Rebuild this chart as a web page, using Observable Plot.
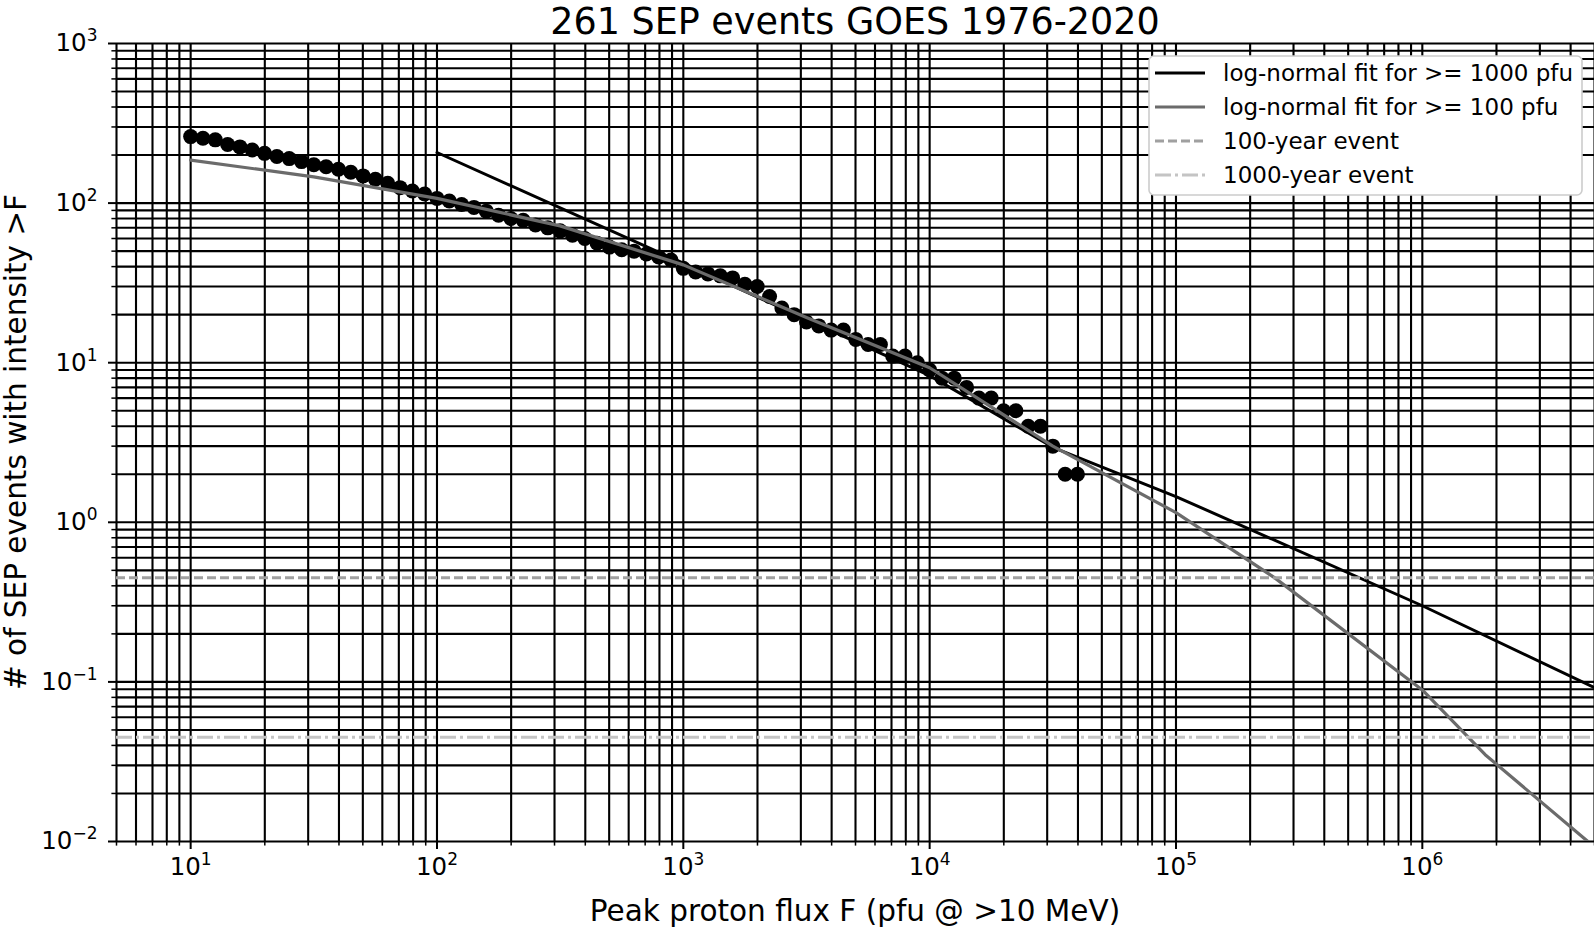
<!DOCTYPE html>
<html><head><meta charset="utf-8">
<script src="https://cdn.jsdelivr.net/npm/d3@7"></script>
<script src="https://cdn.jsdelivr.net/npm/@observablehq/plot@0.6"></script>
<style>
body{margin:0;background:#fff;}
#chart{width:1594px;height:928px;overflow:hidden;}
</style>
</head><body><div id="chart"></div>
<script>
const titleText = "261 SEP events GOES 1976-2020";
const xLabelText = "Peak proton flux F (pfu @ >10 MeV)";
const yLabelText = "# of SEP events with intensity >F";

// Observed thresholds F (pfu) and number of events with intensity > F
const fluxF = [10, 11.22, 12.59, 14.13, 15.85, 17.78, 19.95, 22.39, 25.12, 28.18,
  31.62, 35.48, 39.81, 44.67, 50.12, 56.23, 63.10, 70.79, 79.43, 89.13,
  100, 112.2, 125.9, 141.3, 158.5, 177.8, 199.5, 223.9, 251.2, 281.8,
  316.2, 354.8, 398.1, 446.7, 501.2, 562.3, 631.0, 707.9, 794.3, 891.3,
  1000, 1122, 1259, 1413, 1585, 1778, 1995, 2239, 2512, 2818,
  3162, 3548, 3981, 4467, 5012, 5623, 6310, 7079, 7943, 8913,
  10000, 11220, 12589, 14125, 15849, 17783, 19953, 22387, 25119, 28184,
  31623, 35481, 39811];
const eventCount = [261, 255, 249, 233, 225, 215, 205, 196, 190, 182,
  174, 169, 163, 156, 148, 141, 133, 125, 119, 114,
  107, 103, 98, 94, 89, 84, 80, 78, 73, 70,
  67, 63, 60, 56, 53, 51, 50, 48, 46, 44,
  39, 37, 36, 35, 34, 31, 30, 26, 22, 20,
  18, 17, 16, 16, 14, 13, 13, 11, 11, 10,
  9, 8, 8, 7, 6, 6, 5, 5, 4, 4,
  3, 2, 2];

// log-normal fit for >= 1000 pfu
const fit1000F = [100, 1000, 10000, 31623, 100000, 1000000, 5000000];
const fit1000N = [207.5, 42, 8.3, 2.95, 1.45, 0.30, 0.092];
// log-normal fit for >= 100 pfu
const fit100F = [10, 31.6, 100, 316, 1000, 3162, 10000, 31623, 100000, 251000, 1000000, 1800000, 4700000];
const fit100N = [186, 146, 107, 72, 41, 19.2, 9.3, 3.0, 1.15, 0.45, 0.089, 0.035, 0.01];

// 45 years of data: expected number of 100-year and 1000-year events
const level100yr = [0.45];
const level1000yr = [0.045];

const xMajorTicks = [10, 100, 1000, 10000, 100000, 1000000];
const xMajorLabels = ["10^1", "10^2", "10^3", "10^4", "10^5", "10^6"];
const yMajorTicks = [0.01, 0.1, 1, 10, 100, 1000];
const yMajorLabels = ["10^\u22122", "10^\u22121", "10^0", "10^1", "10^2", "10^3"];

const legendItems = [
  {label: "log-normal fit for >= 1000 pfu", stroke: "#000000", dash: null, width: 3},
  {label: "log-normal fit for >= 100 pfu", stroke: "#6b6b6b", dash: null, width: 3.2},
  {label: "100-year event", stroke: "#a0a0a0", dash: "9,4", width: 3},
  {label: "1000-year event", stroke: "#c4c4c4", dash: "16,4,3,4", width: 3}
];

const xDomain = [5, 5e6];
const yDomain = [0.01, 1000];
const allXTicks = d3.scaleLog().domain(xDomain).ticks();
const allYTicks = d3.scaleLog().domain(yDomain).ticks();
const xMinor = allXTicks.filter(v => !xMajorTicks.some(m => Math.abs(m - v) / m < 1e-9));
const yMinor = allYTicks.filter(v => !yMajorTicks.some(m => Math.abs(m - v) / m < 1e-9));

const points = fluxF.map((f, i) => ({f, n: eventCount[i]}));
const line1000 = fit1000F.map((f, i) => ({f, n: fit1000N[i]}));
const line100 = fit100F.map((f, i) => ({f, n: fit100N[i]}));

const xFmt = d => xMajorLabels[xMajorTicks.indexOf(d)] ?? "";
const yFmt = d => yMajorLabels[yMajorTicks.indexOf(d)] ?? "";

const W = 1594, H = 928;
const chart = Plot.plot({
  width: W, height: H,
  marginLeft: 116, marginRight: 0, marginTop: 43, marginBottom: 87,
  style: {fontFamily: "DejaVu Sans", background: "white", color: "black", overflow: "visible"},
  x: {type: "log", domain: xDomain, label: null},
  y: {type: "log", domain: yDomain, label: null},
  marks: [
    Plot.ruleX(allXTicks, {stroke: "black", strokeWidth: 2.1}),
    Plot.ruleY(allYTicks, {stroke: "black", strokeWidth: 2.1}),
    Plot.axisX(xMinor, {tickSize: 4.6, tickFormat: () => "", strokeWidth: 1.5}),
    Plot.axisX(xMajorTicks, {tickSize: 8, tickPadding: 8, tickFormat: xFmt, strokeWidth: 2, fontSize: 24.5}),
    Plot.axisY(yMinor, {tickSize: 4.6, tickFormat: () => "", strokeWidth: 1.5}),
    Plot.axisY(yMajorTicks, {tickSize: 8, tickPadding: 11, tickFormat: yFmt, strokeWidth: 2, fontSize: 24.5}),
    Plot.dot(points, {x: "f", y: "n", r: 7.5, fill: "black", stroke: "none"}),
    Plot.line(line1000, {x: "f", y: "n", stroke: "#000000", strokeWidth: 3, clip: true}),
    Plot.line(line100, {x: "f", y: "n", stroke: "#6b6b6b", strokeWidth: 3.2, clip: true}),
    Plot.ruleY(level100yr, {stroke: "#a0a0a0", strokeWidth: 3, strokeDasharray: "9,4"}),
    Plot.ruleY(level1000yr, {stroke: "#c4c4c4", strokeWidth: 3, strokeDasharray: "16,4,3,4"})
  ]
});

// superscripts in tick labels
const ns = "http://www.w3.org/2000/svg";
chart.querySelectorAll("text").forEach(t => {
  const s = t.textContent;
  if (!s.includes("^")) return;
  const [b, e] = s.split("^");
  while (t.firstChild) t.removeChild(t.firstChild);
  const t1 = document.createElementNS(ns, "tspan"); t1.textContent = b;
  const t2 = document.createElementNS(ns, "tspan"); t2.textContent = e;
  t2.setAttribute("font-size", "17");
  t2.setAttribute("dy", "-10");
  t.appendChild(t1); t.appendChild(t2);
});

const svg = d3.select(chart);
svg.append("text").attr("x", 855).attr("y", 34).attr("text-anchor", "middle")
  .attr("font-size", 36.5).attr("font-family", "DejaVu Sans").text(titleText);
svg.append("text").attr("x", 855).attr("y", 921).attr("text-anchor", "middle")
  .attr("font-size", 29.5).attr("font-family", "DejaVu Sans").text(xLabelText);
svg.append("text").attr("transform", "translate(26,442) rotate(-90)").attr("text-anchor", "middle")
  .attr("font-size", 29.5).attr("font-family", "DejaVu Sans").text(yLabelText);

// legend
const lg = svg.append("g").attr("font-family", "DejaVu Sans").attr("font-size", 23).attr("text-anchor", "start");
lg.append("rect").attr("x", 1149).attr("y", 56).attr("width", 433).attr("height", 139)
  .attr("rx", 5).attr("fill", "white").attr("stroke", "#cccccc").attr("stroke-width", 1.6);
legendItems.forEach((it, i) => {
  const y = 73 + i * 34;
  lg.append("line").attr("x1", 1155).attr("x2", 1205).attr("y1", y).attr("y2", y)
    .attr("stroke", it.stroke).attr("stroke-width", it.width)
    .attr("stroke-dasharray", it.dash);
  lg.append("text").attr("x", 1223).attr("y", y).attr("dy", "0.35em").text(it.label);
});

document.getElementById("chart").appendChild(chart);
</script>
</body></html>
